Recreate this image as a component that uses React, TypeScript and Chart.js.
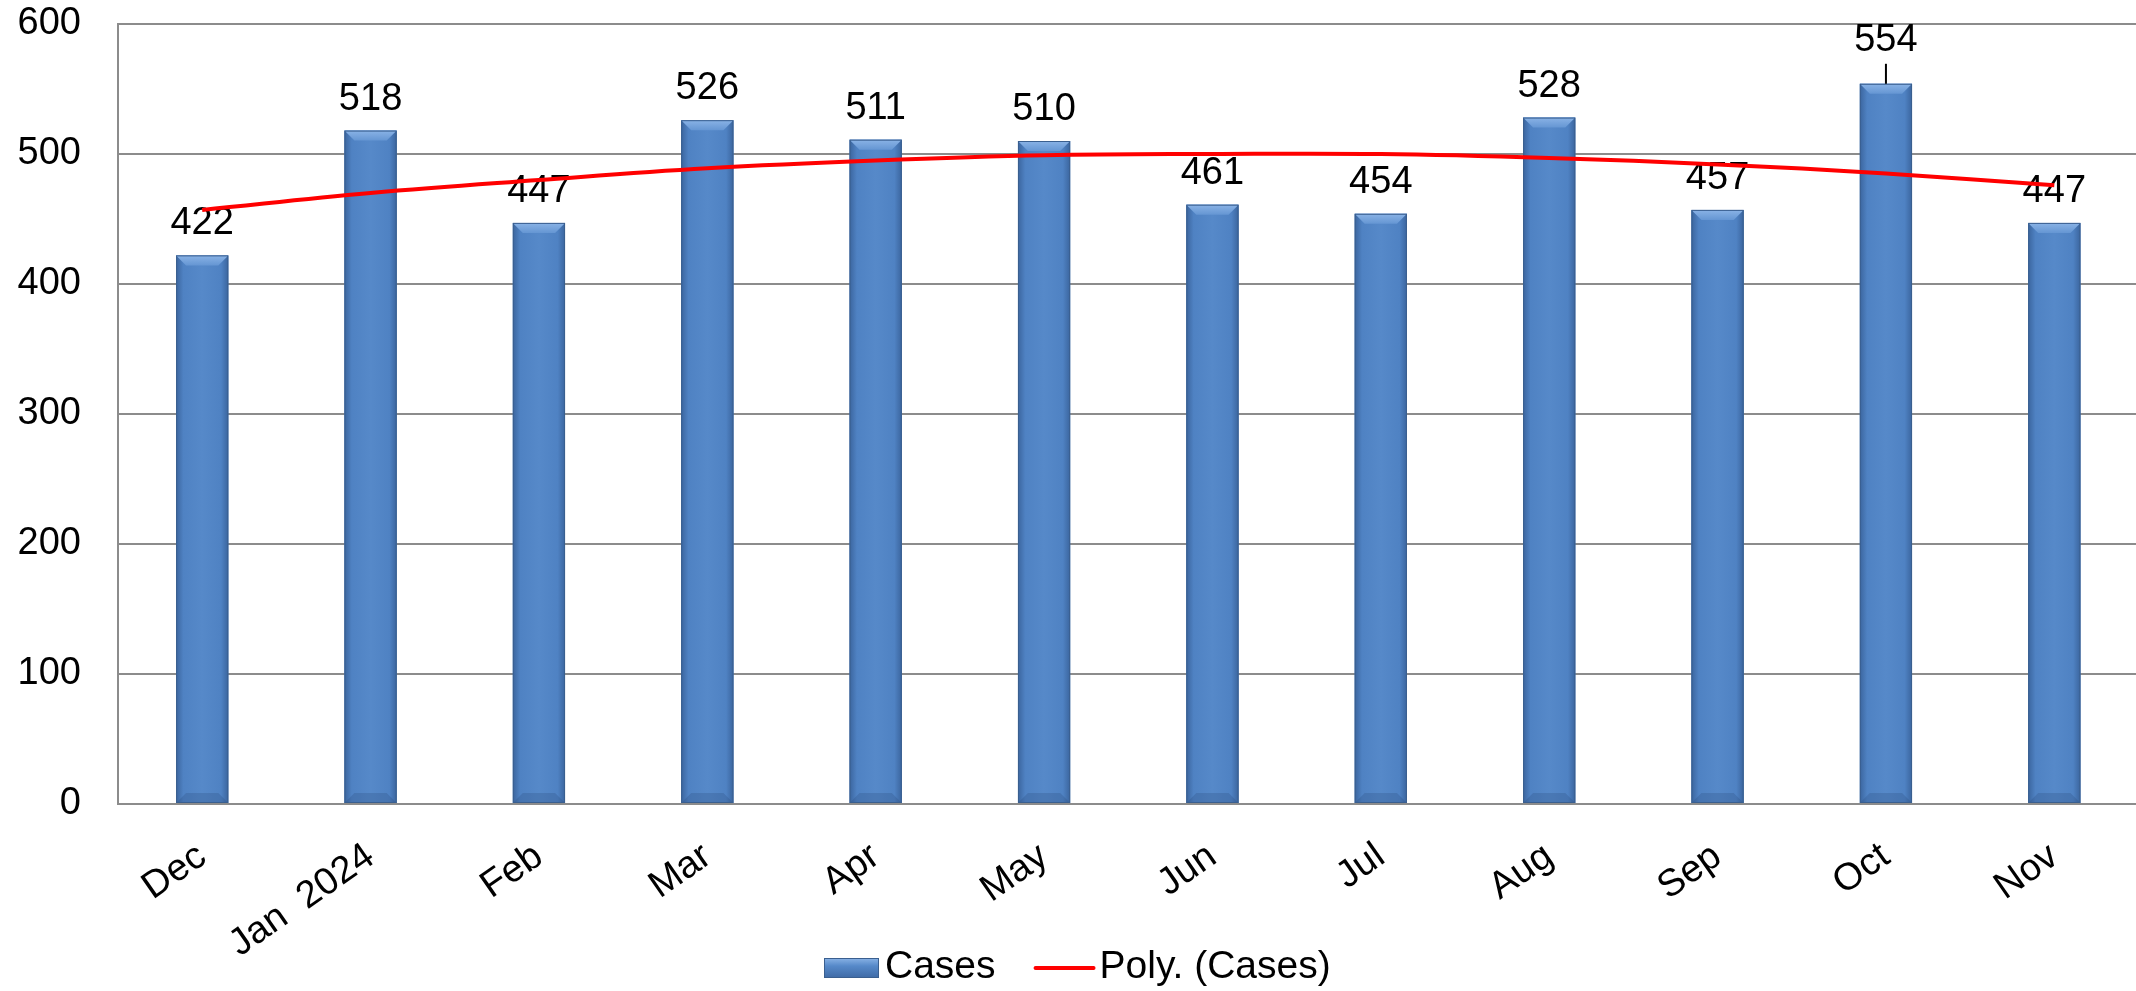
import React, { useEffect, useRef } from 'react';
import { Chart, registerables } from 'chart.js';

Chart.register(...registerables);

// ---- data ----
const categories = ['Dec', 'Jan  2024', 'Feb', 'Mar', 'Apr', 'May', 'Jun', 'Jul', 'Aug', 'Sep', 'Oct', 'Nov'];
const cases = [422, 518, 447, 526, 511, 510, 461, 454, 528, 457, 554, 447];
const polyTrend = [457, 470, 480, 489, 495, 499, 500, 500, 497, 492, 485, 476];
const yAxisMin = 0;
const yAxisMax = 600;
const yAxisStep = 100;
const seriesNames = ['Cases', 'Poly. (Cases)'];

const FONT = "'Liberation Sans', Arial, sans-serif";
const GRID = '#8c8c8c';
const LEADER_INDEX = 10;

const barStyle = {
  id: 'barStyle',
  afterDatasetDraw(chart: any, args: any) {
    if (args.index !== 0) return;
    const ctx = chart.ctx;
    const meta = chart.getDatasetMeta(0);
    ctx.save();
    meta.data.forEach((bar: any) => {
      const w = bar.width;
      const left = bar.x - w / 2;
      const right = bar.x + w / 2;
      const top = bar.y;
      const bottom = bar.base;
      const g = ctx.createLinearGradient(left, 0, right, 0);
      g.addColorStop(0, '#3b659e');
      g.addColorStop(0.14, '#4f82c3');
      g.addColorStop(0.5, '#5689c9');
      g.addColorStop(0.86, '#4f82c3');
      g.addColorStop(1, '#3b659e');
      ctx.fillStyle = g;
      ctx.fillRect(left, top, w, bottom - top);
      const b = 10;
      const tg = ctx.createLinearGradient(0, top, 0, top + b);
      tg.addColorStop(0, '#8ab3e6');
      tg.addColorStop(1, '#6596d3');
      ctx.fillStyle = tg;
      ctx.beginPath();
      ctx.moveTo(left, top);
      ctx.lineTo(right, top);
      ctx.lineTo(right - b, top + b);
      ctx.lineTo(left + b, top + b);
      ctx.closePath();
      ctx.fill();
      ctx.fillStyle = 'rgba(40,70,120,0.25)';
      ctx.beginPath();
      ctx.moveTo(left, bottom);
      ctx.lineTo(right, bottom);
      ctx.lineTo(right - b, bottom - b);
      ctx.lineTo(left + b, bottom - b);
      ctx.closePath();
      ctx.fill();
      ctx.strokeStyle = '#3a5f8f';
      ctx.lineWidth = 1;
      ctx.strokeRect(left + 0.5, top + 0.5, w - 1, bottom - top - 1);
    });
    ctx.fillStyle = '#000';
    ctx.font = `38px ${FONT}`;
    ctx.textAlign = 'center';
    ctx.textBaseline = 'alphabetic';
    meta.data.forEach((bar: any, i: number) => {
      const v = chart.data.datasets[0].data[i];
      let y = bar.y - 21;
      if (i === LEADER_INDEX) {
        y -= 12;
        ctx.strokeStyle = '#000';
        ctx.lineWidth = 2;
        ctx.beginPath();
        ctx.moveTo(bar.x, bar.y);
        ctx.lineTo(bar.x, bar.y - 20);
        ctx.stroke();
      }
      ctx.fillText(String(v), bar.x, y);
    });
    ctx.restore();
  },
};

const customLegend = {
  id: 'customLegend',
  afterDraw(chart: any) {
    const ctx = chart.ctx;
    ctx.save();
    const cy = 968;
    ctx.font = `39px ${FONT}`;
    ctx.textBaseline = 'alphabetic';
    ctx.textAlign = 'left';
    let x = 824;
    const g = ctx.createLinearGradient(0, cy - 10, 0, cy + 10);
    g.addColorStop(0, '#8ab3e6');
    g.addColorStop(0.4, '#5689c9');
    g.addColorStop(1, '#3f6aa5');
    ctx.fillStyle = g;
    ctx.fillRect(x, cy - 10, 55, 20);
    ctx.strokeStyle = '#3a5f8f';
    ctx.lineWidth = 1;
    ctx.strokeRect(x + 0.5, cy - 9.5, 54, 19);
    x = 885;
    ctx.fillStyle = '#000';
    ctx.fillText(seriesNames[0], x, cy + 10);
    x += ctx.measureText(seriesNames[0]).width + 40;
    ctx.strokeStyle = '#ff0000';
    ctx.lineWidth = 4;
    ctx.lineCap = 'round';
    ctx.beginPath();
    ctx.moveTo(x, cy);
    ctx.lineTo(x + 58, cy);
    ctx.stroke();
    x += 64;
    ctx.fillText(seriesNames[1], x, cy + 10);
    ctx.restore();
  },
};

export default function App() {
  const ref = useRef<HTMLCanvasElement>(null);
  useEffect(() => {
    if (!ref.current) return;
    const chart = new Chart(ref.current, {
      type: 'bar',
      data: {
        labels: categories,
        datasets: [
          {
            type: 'bar',
            label: seriesNames[0],
            data: cases,
            backgroundColor: '#5689c9',
            barPercentage: 0.31,
            categoryPercentage: 1,
            order: 2,
          } as any,
          {
            type: 'line',
            label: seriesNames[1],
            data: polyTrend,
            borderColor: '#ff0000',
            borderWidth: 4,
            pointRadius: 0,
            tension: 0.4,
            fill: false,
            order: 1,
          } as any,
        ],
      },
      options: {
        responsive: false,
        animation: false,
        layout: { padding: { left: 8, top: 24, right: 1.5, bottom: 0 } },
        plugins: {
          legend: { display: false },
          tooltip: { enabled: false },
        },
        scales: {
          x: {
            offset: true,
            grid: { display: false, drawTicks: false },
            border: { display: true, color: GRID, width: 2 },
            ticks: {
              font: { family: FONT, size: 38 },
              color: '#000',
              minRotation: 35,
              maxRotation: 35,
              padding: 30,
              autoSkip: false,
            },
            afterFit: (s: any) => {
              s.height = 187;
            },
          },
          y: {
            min: yAxisMin,
            max: yAxisMax,
            grid: { color: GRID, lineWidth: 2, drawTicks: false },
            border: { display: true, color: GRID, width: 2 },
            ticks: {
              stepSize: yAxisStep,
              font: { family: FONT, size: 38 },
              color: '#000',
              padding: 37,
            },
            afterFit: (s: any) => {
              s.width = 110;
              s.paddingTop = 20;
              s.paddingBottom = 20;
            },
          },
        },
      },
      plugins: [barStyle, customLegend],
    });
    return () => chart.destroy();
  }, []);
  return (
    <div style={{ position: 'absolute', left: 0, top: 0, width: 2136, height: 991, overflow: 'hidden', background: '#fff' }}>
      <canvas ref={ref} width={2140} height={991} />
    </div>
  );
}
